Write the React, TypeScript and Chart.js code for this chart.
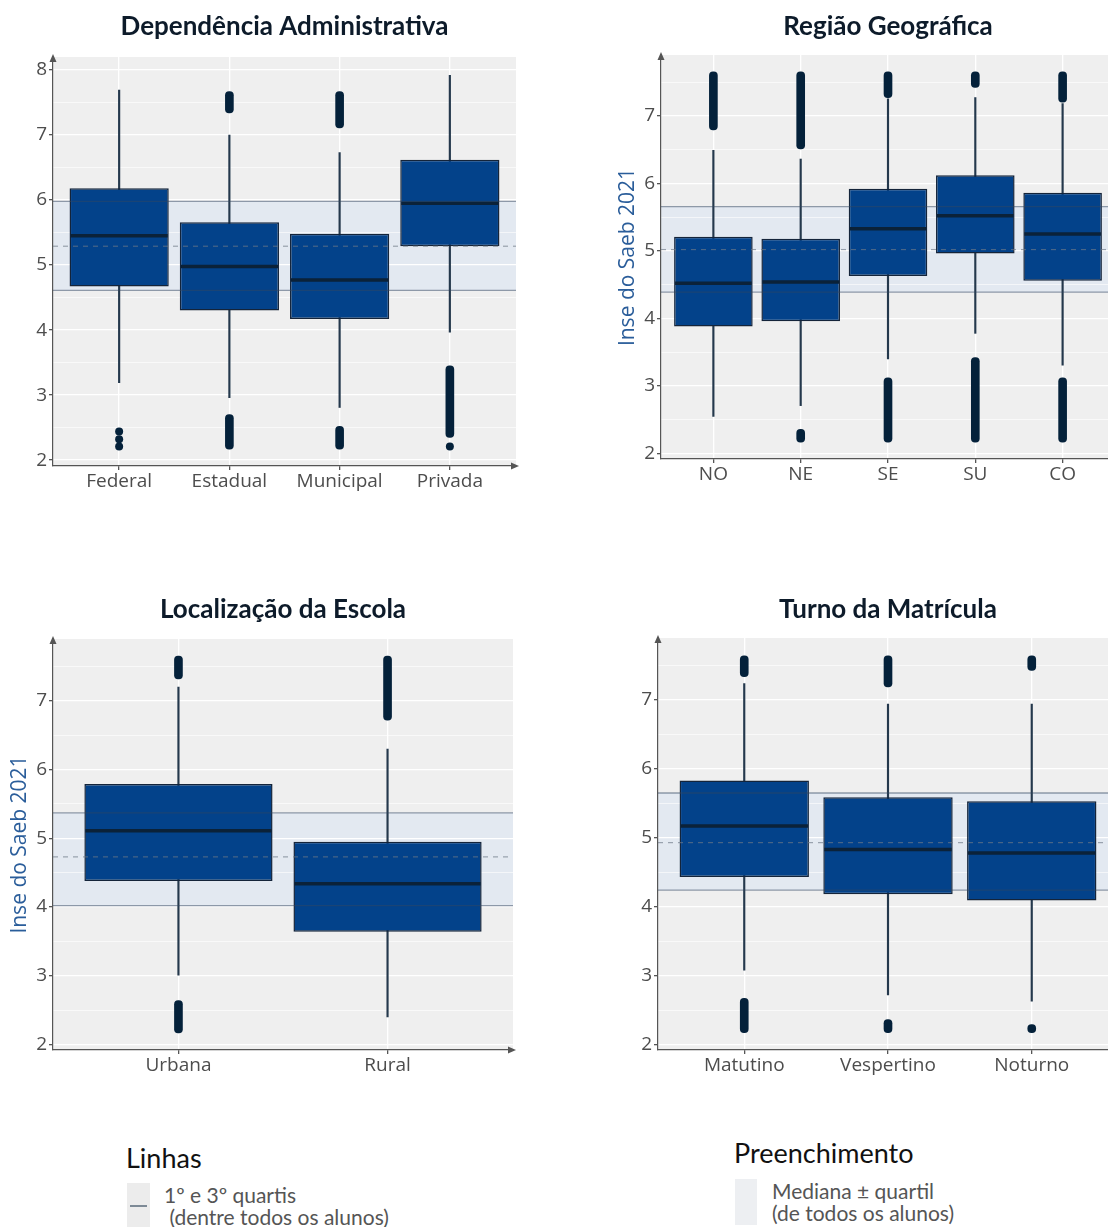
import React, { useEffect, useRef } from 'react';
import { Chart, registerables } from 'chart.js';

Chart.register(...registerables);

// ---------------- DATA ----------------
// Panel 1 – Dependência Administrativa
const depCategories = ['Federal', 'Estadual', 'Municipal', 'Privada'];
const depQ1 = [4.67, 4.30, 4.17, 5.29];
const depMedian = [5.45, 4.98, 4.77, 5.95];
const depQ3 = [6.18, 5.66, 5.48, 6.62];
const depWhiskerLow = [3.19, 2.96, 2.81, 3.97];
const depWhiskerHigh = [7.69, 7.00, 6.73, 7.92];
const depOutHigh = [null, [7.34, 7.67], [7.11, 7.67], null];
const depOutLow = [null, [2.17, 2.70], [2.17, 2.52], [2.35, 3.45]];
const depOutPoints = [[2.21, 2.32, 2.44], [], [], [2.21]];
const depRef = [4.61, 5.29, 5.98]; // Q1, mediana, Q3 (todos os alunos)
const depYTicks = [2, 2.5, 3, 3.5, 4, 4.5, 5, 5.5, 6, 6.5, 7, 7.5, 8];
const depYRange = [1.91, 8.2];

// Panel 2 – Região Geográfica
const regCategories = ['NO', 'NE', 'SE', 'SU', 'CO'];
const regQ1 = [3.88, 3.96, 4.63, 4.96, 4.56];
const regMedian = [4.52, 4.54, 5.33, 5.52, 5.25];
const regQ3 = [5.21, 5.18, 5.92, 6.12, 5.86];
const regWhiskerLow = [2.55, 2.71, 3.40, 3.78, 3.31];
const regWhiskerHigh = [6.49, 6.36, 7.25, 7.27, 7.18];
const regOutHigh = [[6.79, 7.65], [6.51, 7.65], [7.27, 7.65], [7.42, 7.65], [7.20, 7.65]];
const regOutLow = [null, [2.17, 2.36], [2.17, 3.12], [2.17, 3.42], [2.17, 3.12]];
const regOutPoints = [[], [], [], [], []];
const regRef = [4.39, 5.02, 5.655];
const regYTicks = [2, 2.5, 3, 3.5, 4, 4.5, 5, 5.5, 6, 6.5, 7, 7.5];
const regYRange = [1.92, 7.9];

// Panel 3 – Localização da Escola
const locCategories = ['Urbana', 'Rural'];
const locQ1 = [4.38, 3.64];
const locMedian = [5.11, 4.34];
const locQ3 = [5.79, 4.95];
const locWhiskerLow = [3.01, 2.40];
const locWhiskerHigh = [7.20, 6.30];
const locOutHigh = [[7.32, 7.65], [6.72, 7.65]];
const locOutLow = [[2.17, 2.64], null];
const locOutPoints = [[], []];
const locRef = [4.02, 4.73, 5.37];
const locYTicks = [2, 2.5, 3, 3.5, 4, 4.5, 5, 5.5, 6, 6.5, 7, 7.5];
const locYRange = [1.92, 7.9];

// Panel 4 – Turno da Matrícula
const turCategories = ['Matutino', 'Vespertino', 'Noturno'];
const turQ1 = [4.43, 4.18, 4.09];
const turMedian = [5.17, 4.83, 4.78];
const turQ3 = [5.83, 5.59, 5.53];
const turWhiskerLow = [3.08, 2.72, 2.63];
const turWhiskerHigh = [7.24, 6.94, 6.94];
const turOutHigh = [[7.34, 7.64], [7.19, 7.64], [7.43, 7.64]];
const turOutLow = [[2.17, 2.67], [2.17, 2.36], [2.17, 2.29]];
const turOutPoints = [[], [], []];
const turRef = [4.24, 4.93, 5.65];
const turYTicks = [2, 2.5, 3, 3.5, 4, 4.5, 5, 5.5, 6, 6.5, 7, 7.5];
const turYRange = [1.92, 7.9];

// ---------------- STYLE ----------------
const BOX_FILL = '#03428A';
const BOX_BORDER = '#14243A';
const WHISKER = '#24384C';
const OUTLIER = '#04213A';
const MEDIAN = '#0B2239';
const PANEL_BG = '#EFEFEF';
const BAND = '#E3E9F1';
const REF_LINE = 'rgba(50,70,95,0.5)';
const REF_DASH = 'rgba(110,122,135,0.65)';
const AXIS = '#555555';
const TICK_TEXT = '#4D4D4D';
const TITLE = '#0D1B2A';
const YTITLE = '#2A5D9A';

type Panel = {
  title: string;
  yTitle?: string;
  categories: string[];
  q1: number[];
  median: number[];
  q3: number[];
  whiskerLow: number[];
  whiskerHigh: number[];
  outHigh: (number[] | null)[];
  outLow: (number[] | null)[];
  outPoints: number[][];
  ref: number[];
  yTicks: number[];
  yRange: number[];
};

type Layout = {
  left: number;
  top: number;
  width: number;
  height: number;
  areaLeft: number;
  areaTop: number;
  areaRight: number;
  areaBottom: number;
  titleY: number;
  yTitleCenter: number;
};

const panels: { p: Panel; l: Layout }[] = [
  {
    p: {
      title: 'Dependência Administrativa', categories: depCategories, q1: depQ1, median: depMedian, q3: depQ3,
      whiskerLow: depWhiskerLow, whiskerHigh: depWhiskerHigh, outHigh: depOutHigh, outLow: depOutLow,
      outPoints: depOutPoints, ref: depRef, yTicks: depYTicks, yRange: depYRange,
    },
    l: { left: 0, top: 0, width: 540, height: 500, areaLeft: 53, areaTop: 57, areaRight: 516, areaBottom: 466, titleY: 27, yTitleCenter: 0 },
  },
  {
    p: {
      title: 'Região Geográfica', yTitle: 'Inse do Saeb 2021', categories: regCategories, q1: regQ1, median: regMedian, q3: regQ3,
      whiskerLow: regWhiskerLow, whiskerHigh: regWhiskerHigh, outHigh: regOutHigh, outLow: regOutLow,
      outPoints: regOutPoints, ref: regRef, yTicks: regYTicks, yRange: regYRange,
    },
    l: { left: 600, top: 0, width: 540, height: 500, areaLeft: 61, areaTop: 55, areaRight: 515, areaBottom: 459, titleY: 27, yTitleCenter: 28 },
  },
  {
    p: {
      title: 'Localização da Escola', yTitle: 'Inse do Saeb 2021', categories: locCategories, q1: locQ1, median: locMedian, q3: locQ3,
      whiskerLow: locWhiskerLow, whiskerHigh: locWhiskerHigh, outHigh: locOutHigh, outLow: locOutLow,
      outPoints: locOutPoints, ref: locRef, yTicks: locYTicks, yRange: locYRange,
    },
    l: { left: 0, top: 580, width: 540, height: 500, areaLeft: 53, areaTop: 59, areaRight: 513, areaBottom: 470, titleY: 30, yTitleCenter: 20 },
  },
  {
    p: {
      title: 'Turno da Matrícula', categories: turCategories, q1: turQ1, median: turMedian, q3: turQ3,
      whiskerLow: turWhiskerLow, whiskerHigh: turWhiskerHigh, outHigh: turOutHigh, outLow: turOutLow,
      outPoints: turOutPoints, ref: turRef, yTicks: turYTicks, yRange: turYRange,
    },
    l: { left: 600, top: 580, width: 540, height: 500, areaLeft: 58, areaTop: 58, areaRight: 518, areaBottom: 470, titleY: 30, yTitleCenter: 0 },
  },
];

function BoxChart({ p, l }: { p: Panel; l: Layout }) {
  const ref = useRef<HTMLCanvasElement>(null);

  useEffect(() => {
    const n = p.categories.length;
    const xs = p.categories.map((_, i) => i + 1);
    const boxData = xs.map((x, i) => ({ x, y: [p.q1[i], p.q3[i]] }));
    const whiskerData = xs.map((x, i) => ({ x, y: [p.whiskerLow[i], p.whiskerHigh[i]] }));
    const outRanges: { x: number; y: number[] }[] = [];
    p.outHigh.forEach((r, i) => { if (r) outRanges.push({ x: i + 1, y: [r[0], r[1]] }); });
    p.outLow.forEach((r, i) => { if (r) outRanges.push({ x: i + 1, y: [r[0], r[1]] }); });
    const pts: { x: number; y: number }[] = [];
    p.outPoints.forEach((arr, i) => arr.forEach((v) => pts.push({ x: i + 1, y: v })));

    const yTitleFont = 21;
    const yTitleLH = yTitleFont * 1.2;

    const extras = {
      id: 'boxExtras',
      beforeDraw(chart: any) {
        const { ctx, chartArea: ca, scales } = chart;
        const y = scales.y;
        ctx.save();
        ctx.fillStyle = PANEL_BG;
        ctx.fillRect(ca.left, ca.top, ca.right - ca.left, ca.bottom - ca.top);
        const yTop = y.getPixelForValue(p.ref[2]);
        const yBot = y.getPixelForValue(p.ref[0]);
        ctx.fillStyle = BAND;
        ctx.fillRect(ca.left, yTop, ca.right - ca.left, yBot - yTop);
        ctx.restore();
      },
      afterDatasetsDraw(chart: any) {
        const { ctx, chartArea: ca, scales } = chart;
        const x = scales.x;
        const y = scales.y;
        const unit = x.getPixelForValue(2) - x.getPixelForValue(1);
        const half = unit * 0.45;
        ctx.save();
        // medians
        ctx.strokeStyle = MEDIAN;
        ctx.lineWidth = 3.5;
        p.median.forEach((m, i) => {
          const cx = x.getPixelForValue(i + 1);
          const py = y.getPixelForValue(m);
          ctx.beginPath();
          ctx.moveTo(cx - half + 1, py);
          ctx.lineTo(cx + half - 1, py);
          ctx.stroke();
        });
        // reference lines (all students)
        ctx.lineWidth = 1.3;
        ctx.strokeStyle = REF_LINE;
        [p.ref[0], p.ref[2]].forEach((v) => {
          const py = y.getPixelForValue(v);
          ctx.beginPath();
          ctx.moveTo(ca.left, py);
          ctx.lineTo(ca.right, py);
          ctx.stroke();
        });
        ctx.strokeStyle = REF_DASH;
        ctx.lineWidth = 1.2;
        ctx.setLineDash([5, 5]);
        const pm = y.getPixelForValue(p.ref[1]);
        ctx.beginPath();
        ctx.moveTo(ca.left, pm);
        ctx.lineTo(ca.right, pm);
        ctx.stroke();
        ctx.restore();
      },
      afterDraw(chart: any) {
        const { ctx, chartArea: ca } = chart;
        ctx.save();
        // title centred over panel
        ctx.fillStyle = TITLE;
        ctx.font = 'bold 26px Lato';
        ctx.textAlign = 'center';
        ctx.textBaseline = 'middle';
        ctx.fillText(p.title, (ca.left + ca.right) / 2, l.titleY);
        // arrow heads
        ctx.fillStyle = AXIS;
        ctx.beginPath();
        ctx.moveTo(ca.left, ca.top - 3);
        ctx.lineTo(ca.left - 3.5, ca.top + 5);
        ctx.lineTo(ca.left + 3.5, ca.top + 5);
        ctx.closePath();
        ctx.fill();
        ctx.beginPath();
        ctx.moveTo(ca.right + 3, ca.bottom);
        ctx.lineTo(ca.right - 5, ca.bottom - 3.5);
        ctx.lineTo(ca.right - 5, ca.bottom + 3.5);
        ctx.closePath();
        ctx.fill();
        ctx.restore();
      },
    };

    const chart = new Chart(ref.current as HTMLCanvasElement, {
      type: 'bar',
      data: {
        datasets: [
          {
            type: 'bar', data: boxData as any, backgroundColor: BOX_FILL, borderColor: BOX_BORDER, borderWidth: 1.5,
            borderSkipped: false, grouped: false, categoryPercentage: 1, barPercentage: 0.9,
          } as any,
          {
            type: 'bar', data: whiskerData as any, backgroundColor: WHISKER, borderWidth: 0,
            grouped: false, categoryPercentage: 1, barPercentage: 1, maxBarThickness: 1.5,
          } as any,
          {
            type: 'bar', data: outRanges as any, backgroundColor: OUTLIER, borderWidth: 0, borderRadius: 4,
            borderSkipped: false, grouped: false, categoryPercentage: 1, barPercentage: 1, maxBarThickness: 8,
          } as any,
          {
            type: 'scatter', data: pts as any, backgroundColor: OUTLIER, borderWidth: 0, pointRadius: 4,
          } as any,
        ],
      },
      options: {
        animation: false,
        responsive: false,
        maintainAspectRatio: false,
        events: [],
        layout: { padding: { top: l.areaTop, right: l.width - l.areaRight, left: 0, bottom: 0 } },
        plugins: { legend: { display: false }, tooltip: { enabled: false }, title: { display: false } },
        scales: {
          x: {
            type: 'linear',
            min: 0.4,
            max: n + 0.6,
            offset: false,
            afterBuildTicks: (axis: any) => { axis.ticks = xs.map((v) => ({ value: v })); },
            afterFit: (s: any) => { s.height = l.height - l.areaBottom; },
            ticks: {
              autoSkip: false, maxRotation: 0, padding: 0, color: TICK_TEXT,
              font: { family: 'Open Sans', size: 19 },
              callback: (v: any) => p.categories[Math.round(Number(v)) - 1] ?? '',
            },
            grid: { color: '#FFFFFF', lineWidth: 1.3, tickColor: AXIS, tickLength: 4, offset: false },
            border: { display: true, color: AXIS, width: 1.2 },
          },
          y: {
            type: 'linear',
            min: p.yRange[0],
            max: p.yRange[1],
            afterBuildTicks: (axis: any) => { axis.ticks = p.yTicks.map((v) => ({ value: v })); },
            afterFit: (s: any) => { s.width = l.areaLeft; },
            ticks: {
              padding: 2, color: TICK_TEXT, font: { family: 'Open Sans', size: 19 },
              callback: (v: any) => (Number.isInteger(Number(v)) ? String(v) : ''),
            },
            grid: {
              color: '#FFFFFF',
              lineWidth: (c: any) => (c.tick && Number.isInteger(c.tick.value) ? 1.3 : 0.6),
              tickColor: (c: any) => (c.tick && Number.isInteger(c.tick.value) ? AXIS : 'rgba(0,0,0,0)'),
              tickLength: 4,
            },
            border: { display: true, color: AXIS, width: 1.2 },
            title: {
              display: !!p.yTitle,
              text: p.yTitle || '',
              color: YTITLE,
              font: { family: 'Open Sans', size: yTitleFont, lineHeight: 1.2 },
              padding: { top: Math.max(0, l.yTitleCenter - yTitleLH / 2), bottom: 0 },
            },
          },
        },
      } as any,
      plugins: [extras],
    });
    return () => chart.destroy();
  }, []);

  return (
    <canvas
      ref={ref}
      width={l.width}
      height={l.height}
      style={{ position: 'absolute', left: l.left, top: l.top, width: l.width, height: l.height }}
    />
  );
}

export default function App() {
  const legendTitle: React.CSSProperties = { position: 'absolute', fontFamily: 'Lato', fontSize: 27, color: '#111', lineHeight: '32px', whiteSpace: 'nowrap' };
  const legendText: React.CSSProperties = { position: 'absolute', fontFamily: 'Lato', fontSize: 21, color: '#555', lineHeight: '22px', whiteSpace: 'pre' };
  return (
    <div style={{ position: 'absolute', left: 0, top: 0, width: 1108, height: 1227, overflow: 'hidden', background: '#FFFFFF' }}>
      {panels.map((pl, i) => (
        <BoxChart key={i} p={pl.p} l={pl.l} />
      ))}
      {/* Legend: Linhas */}
      <div style={{ ...legendTitle, left: 126, top: 1142 }}>Linhas</div>
      <div style={{ position: 'absolute', left: 127, top: 1183, width: 23, height: 44, background: '#ECECEC' }}>
        <div style={{ position: 'absolute', left: 3, top: 22, width: 17, height: 2, background: '#7D8A96' }} />
      </div>
      <div style={{ ...legendText, left: 164, top: 1184 }}>{'1º e 3º quartis\n (dentre todos os alunos)'}</div>
      {/* Legend: Preenchimento */}
      <div style={{ ...legendTitle, left: 734, top: 1137 }}>Preenchimento</div>
      <div style={{ position: 'absolute', left: 735, top: 1179, width: 22, height: 46, background: '#EDEFF2' }} />
      <div style={{ ...legendText, left: 772, top: 1180 }}>{'Mediana ± quartil\n(de todos os alunos)'}</div>
    </div>
  );
}
